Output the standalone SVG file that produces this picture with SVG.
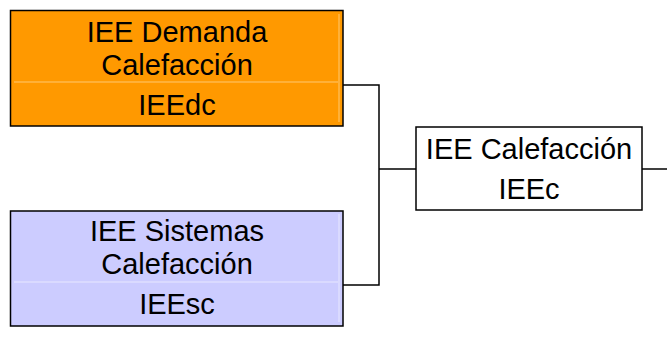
<svg xmlns="http://www.w3.org/2000/svg" width="667" height="361" viewBox="0 0 667 361">
<style>
text{font-family:"Liberation Sans",Arial,sans-serif;font-size:29px;fill:#000;text-anchor:middle}
.box{stroke:#000;stroke-width:1.5}
.conn{fill:none;stroke:#000;stroke-width:1.5}
.sepO{stroke:#FFC870;stroke-width:1}
.sepP{stroke:#E8E8FF;stroke-width:1}
</style>
<rect width="667" height="361" fill="#fff"/>
<g id="connectors">
<polyline class="conn" points="343,85 379,85 379,285 343,285"/>
<line class="conn" x1="379" y1="169" x2="416" y2="169"/>
<line class="conn" x1="642" y1="169" x2="667" y2="169"/>
</g>
<g id="demanda">
<rect class="box" x="10.5" y="10.5" width="332.5" height="115.5" fill="#FF9900"/>
<line class="sepO" x1="14" y1="82" x2="338" y2="82"/>
<line class="sepO" x1="339" y1="14" x2="339" y2="122"/>
<text x="177" y="42">IEE Demanda</text>
<text x="177" y="75">Calefacción</text>
<text x="177" y="115">IEEdc</text>
</g>
<g id="sistemas">
<rect class="box" x="10.5" y="211" width="332.5" height="115" fill="#CCCCFF"/>
<line class="sepP" x1="14" y1="282" x2="338" y2="282"/>
<line class="sepP" x1="339" y1="214" x2="339" y2="322"/>
<text x="177" y="241">IEE Sistemas</text>
<text x="177" y="274">Calefacción</text>
<text x="177" y="314">IEEsc</text>
</g>
<g id="calefaccion">
<rect class="box" x="416" y="127" width="226" height="83" fill="#fff"/>
<text x="529" y="159">IEE Calefacción</text>
<text x="529" y="199">IEEc</text>
</g>
</svg>
